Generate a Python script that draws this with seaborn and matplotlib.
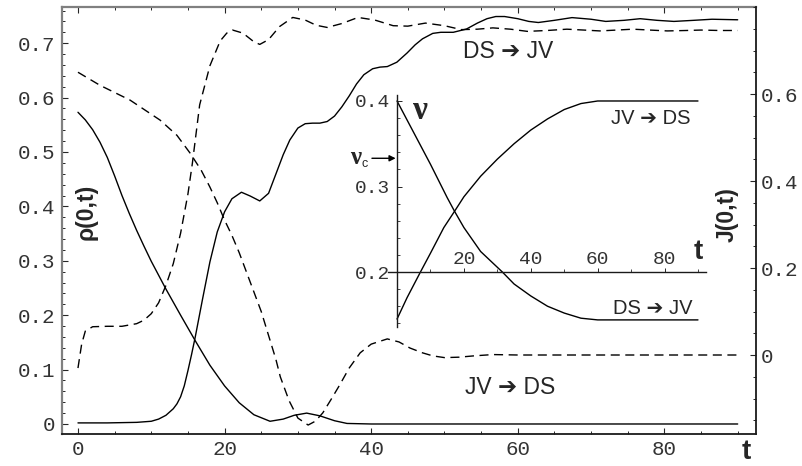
import matplotlib
matplotlib.use("Agg")
import matplotlib.pyplot as plt
import numpy as np
import pandas as pd
import seaborn as sns
from matplotlib.ticker import MultipleLocator, FixedLocator

sns.set_style("ticks")
plt.rcParams["font.family"] = ["Liberation Sans", "DejaVu Sans"]

# ---------------- main panel: density rho(0,t) (solid, left axis) ----------------
t_rho_up = [0, 4, 8, 10, 11, 12, 13, 13.5, 14, 14.5, 15, 15.5, 16, 17, 18, 19, 20, 21, 22.3,
            23.5, 24.8, 26, 27.1, 28, 28.9, 30, 31, 32, 33, 34, 35, 36, 37, 38, 39, 40.2,
            41.2, 42.2, 43.5, 44.9, 46, 47, 48.4, 49.5, 51.2, 53, 54.5, 55.8, 57, 58.2, 60,
            61.5, 62.8, 65, 67.4, 70, 72, 74.5, 76.7, 79, 81.3, 84, 86.5, 90]
rho_ds_jv = [0.002, 0.002, 0.003, 0.005, 0.009, 0.016, 0.028, 0.037, 0.05, 0.07, 0.098,
             0.128, 0.16, 0.23, 0.298, 0.353, 0.39, 0.414, 0.426, 0.419, 0.41, 0.424, 0.463,
             0.495, 0.522, 0.544, 0.552, 0.553, 0.553, 0.556, 0.566, 0.583, 0.603, 0.625,
             0.642, 0.653, 0.656, 0.657, 0.665, 0.682, 0.697, 0.708, 0.718, 0.72, 0.72,
             0.726, 0.737, 0.745, 0.749, 0.749, 0.745, 0.74, 0.738, 0.742, 0.747, 0.744,
             0.74, 0.742, 0.745, 0.742, 0.74, 0.742, 0.744, 0.743]

t_rho_down = [0, 1, 2, 3, 4, 5, 6, 7, 8, 9, 10, 12, 14, 16, 18, 20, 22, 24, 26.2, 28,
              29.5, 31.2, 33, 35, 36.7, 40, 50, 60, 70, 80, 90]
rho_jv_ds = [0.573, 0.559, 0.541, 0.518, 0.49, 0.456, 0.42, 0.387, 0.356, 0.327, 0.299,
             0.248, 0.2, 0.153, 0.108, 0.07, 0.039, 0.017, 0.005, 0.009, 0.016, 0.02, 0.015,
             0.006, 0.001, 0.0, 0.0, 0.0, 0.0, 0.0, 0.0]

# ---------------- main panel: current J(0,t) (dashed, right axis) ----------------
t_j_up = [0, 0.5, 1, 2, 4, 6, 8, 9, 10, 11, 12, 13, 14, 15, 15.6, 16.6, 18, 19.4, 20.3,
          21.1, 22.5, 24, 24.8, 26, 27.5, 29.3, 31, 32.5, 34, 36, 38.2, 40.5, 43, 45, 47.4,
          50, 52.3, 54.5, 56.6, 59, 61.3, 64, 66.7, 69, 71.2, 73.5, 75.7, 78, 80.4, 83, 85,
          87.5, 90]
j_ds_jv = [-0.03, 0.025, 0.055, 0.065, 0.066, 0.066, 0.072, 0.08, 0.095, 0.12, 0.16, 0.21,
           0.28, 0.37, 0.44, 0.575, 0.665, 0.722, 0.74, 0.747, 0.74, 0.72, 0.714, 0.725,
           0.755, 0.776, 0.77, 0.758, 0.753, 0.762, 0.776, 0.77, 0.757, 0.756, 0.763, 0.757,
           0.748, 0.749, 0.752, 0.749, 0.744, 0.746, 0.749, 0.747, 0.745, 0.747, 0.749,
           0.747, 0.745, 0.746, 0.747, 0.746, 0.746]

t_j_down = [0, 3, 7.1, 11.2, 13.5, 15.3, 16.8, 18, 19, 20, 21, 22, 23, 24, 25, 26, 27, 27.6,
            28.8, 30, 31.4, 32.4, 33.4, 34.5, 35.7, 37, 38.5, 40, 42.2, 43.8, 45.3, 47, 48.4,
            50, 52, 54, 56.6, 60, 70, 80, 90]
j_jv_ds = [0.65, 0.62, 0.586, 0.54, 0.505, 0.464, 0.425, 0.386, 0.35, 0.31, 0.275, 0.235,
           0.19, 0.145, 0.10, 0.045, -0.01, -0.05, -0.105, -0.145, -0.161, -0.152, -0.133,
           -0.103, -0.069, -0.03, 0.005, 0.025, 0.037, 0.03, 0.016, 0.005, -0.002, -0.006,
           -0.005, -0.002, 0.001, 0.0, 0.0, 0.0, 0.0]

# ---------------- inset: drive parameter nu(t) ----------------
t_nu_up = [0, 3, 7, 10, 14, 17.2, 20, 25, 30, 35, 40, 45, 50, 55, 60, 65, 70, 80, 90]
nu_jv_ds = [0.145, 0.17, 0.2, 0.222, 0.252, 0.271, 0.288, 0.312, 0.332, 0.35, 0.366, 0.379,
            0.39, 0.397, 0.4, 0.4, 0.4, 0.4, 0.4]
t_nu_down = [0, 5, 10, 15, 17.2, 20, 25, 31.5, 35, 40, 45, 50, 55, 60, 70, 80, 90]
nu_ds_jv = [0.4, 0.363, 0.326, 0.287, 0.271, 0.252, 0.224, 0.2, 0.186, 0.172, 0.16, 0.152,
            0.146, 0.144, 0.144, 0.144, 0.144]
nu_c = 0.333

x_ticks = [0, 20, 40, 60, 80]
rho_ticks = [0, 0.1, 0.2, 0.3, 0.4, 0.5, 0.6, 0.7]
rho_labels = ["0", "0.1", "0.2", "0.3", "0.4", "0.5", "0.6", "0.7"]
j_ticks = [0, 0.2, 0.4, 0.6]
j_labels = ["0", "0.2", "0.4", "0.6"]
nu_ticks = [0.2, 0.3, 0.4]
nu_labels = ["0.2", "0.3", "0.4"]
inset_x_ticks = [20, 40, 60, 80]

W, H = 802, 466
MONO = "Liberation Mono"
ARROW = "\u2794"   # heavy arrow, taken from DejaVu Sans


def fxy(px, py):
    """pixel position on the canvas -> figure fraction"""
    return px / W, 1 - py / H


fig = plt.figure(figsize=(W / 100, H / 100), dpi=100)
fig.patch.set_facecolor("white")

ax = fig.add_axes([62 / W, 1 - 434 / H, (756 - 62) / W, (434 - 7) / H])
axr = ax.twinx()
axr.set_position(ax.get_position())

lw = 1.0
sns.lineplot(x=t_rho_up, y=rho_ds_jv, ax=ax, color="black", lw=lw, sort=False)
sns.lineplot(x=t_rho_down, y=rho_jv_ds, ax=ax, color="black", lw=lw, sort=False)
sns.lineplot(x=t_j_up, y=j_ds_jv, ax=axr, color="black", lw=lw, sort=False)
sns.lineplot(x=t_j_down, y=j_jv_ds, ax=axr, color="black", lw=lw, sort=False)
for ln in axr.lines:
    ln.set_dashes([6.5, 4])

ax.set_xlim(-2.18, 92.5)
ax.set_ylim(-0.0184, 0.7665)
axr.set_ylim(-0.1816, 0.80)

ax.set_xlabel("")
ax.set_ylabel("")
axr.set_ylabel("")

ax.xaxis.set_major_locator(FixedLocator(x_ticks))
ax.set_xticklabels([str(v) for v in x_ticks])
ax.xaxis.set_minor_locator(MultipleLocator(5))
ax.set_yticks(rho_ticks, labels=rho_labels)
ax.yaxis.set_minor_locator(MultipleLocator(0.02))
axr.set_yticks(j_ticks, labels=j_labels)
axr.yaxis.set_minor_locator(MultipleLocator(0.05))

ax.tick_params(axis="x", which="major", direction="in", length=4, width=0.8,
               top=True, bottom=True, pad=4.5, labelsize=15, labelcolor="#333333")
ax.tick_params(axis="x", which="minor", direction="in", length=2.5, width=0.7,
               top=True, bottom=True)
ax.tick_params(axis="y", which="major", direction="in", length=4, width=0.8,
               left=True, right=False, pad=5, labelsize=15, labelcolor="#333333")
ax.tick_params(axis="y", which="minor", direction="in", length=2.5, width=0.7,
               left=True, right=False)
axr.tick_params(axis="y", which="major", direction="in", length=4, width=0.8,
                right=True, left=False, pad=3.5, labelsize=15, labelcolor="#333333")
axr.tick_params(axis="y", which="minor", direction="in", length=2.5, width=0.7,
                right=True, left=False)
for lab in ax.get_xticklabels() + ax.get_yticklabels() + axr.get_yticklabels():
    lab.set_fontfamily(MONO)

for side in ("top", "left"):
    ax.spines[side].set_color("#808080")
    ax.spines[side].set_linewidth(1.6)
ax.spines["bottom"].set_color("#1a1a1a")
ax.spines["bottom"].set_linewidth(1.3)
ax.spines["right"].set_visible(False)
for side in ("top", "left", "bottom"):
    axr.spines[side].set_visible(False)
axr.spines["right"].set_color("#1a1a1a")
axr.spines["right"].set_linewidth(1.3)

# axis titles and curve annotations
fig.text(*fxy(86, 212), "ρ(0,t)", rotation=90, ha="center", va="center",
         fontsize=16.5, fontweight="bold")
fig.text(*fxy(727, 215), "J(0,t)", rotation=90, ha="center", va="center",
         fontsize=16.5, fontweight="bold")
fig.text(*fxy(746, 452), "t", ha="center", va="center", fontsize=20, fontweight="bold")
fig.text(*fxy(508, 52), f"DS {ARROW} JV", ha="center", va="center", fontsize=16.5)
fig.text(*fxy(510, 388), f"JV {ARROW} DS", ha="center", va="center", fontsize=16.5)

# ---------------- inset ----------------
ins = fig.add_axes([388 / W, 1 - 327 / H, (706 - 388) / W, (327 - 95) / H])
ins.patch.set_alpha(0)
sns.lineplot(x=t_nu_up, y=nu_jv_ds, ax=ins, color="black", lw=lw, sort=False)
sns.lineplot(x=t_nu_down, y=nu_ds_jv, ax=ins, color="black", lw=lw, sort=False)
ins.set_xlim(-2.7, 92.4)
ins.set_ylim(0.1357, 0.407)
ins.set_xlabel("")
ins.set_ylabel("")
ins.spines["left"].set_position(("data", 0))
ins.spines["bottom"].set_position(("data", 0.2))
ins.spines["top"].set_visible(False)
ins.spines["right"].set_visible(False)
for side in ("left", "bottom"):
    ins.spines[side].set_color("#1a1a1a")
    ins.spines[side].set_linewidth(1.0)
ins.set_yticks(nu_ticks, labels=nu_labels)
ins.yaxis.set_minor_locator(MultipleLocator(0.02))
ins.set_xticks(inset_x_ticks, labels=[str(v) for v in inset_x_ticks])
ins.xaxis.set_minor_locator(MultipleLocator(10))
ins.tick_params(axis="y", which="major", direction="in", length=3.5, width=0.7,
                pad=5, labelsize=14, labelcolor="#333333")
ins.tick_params(axis="y", which="minor", direction="in", length=2, width=0.6)
ins.tick_params(axis="x", which="major", direction="in", length=3, width=0.7,
                pad=-15, labelsize=14, labelcolor="#333333")
ins.tick_params(axis="x", which="minor", direction="in", length=2, width=0.6)
for lab in ins.get_xticklabels() + ins.get_yticklabels():
    lab.set_fontfamily(MONO)

ins.text(6.9, 0.389, "ν", ha="center", va="center", fontsize=24, fontweight="bold",
         family=["Liberation Serif", "DejaVu Serif"])
fig.text(*fxy(698, 252), "t", ha="center", va="center", fontsize=20, fontweight="bold")
fig.text(*fxy(651, 118), f"JV {ARROW} DS", ha="center", va="center", fontsize=14.5)
fig.text(*fxy(653, 309), f"DS {ARROW} JV", ha="center", va="center", fontsize=14.5)

# critical value marker on the nu axis
fig.text(*fxy(356, 158), "ν", ha="center", va="center", fontsize=18, fontweight="bold",
         family=["Liberation Serif", "DejaVu Serif"])
fig.text(*fxy(365, 164), "c", ha="center", va="center", fontsize=9)
ins.annotate("", xy=(0, nu_c), xytext=(-7.5, nu_c), annotation_clip=False,
             arrowprops=dict(arrowstyle="-|>", lw=1.0, color="black", mutation_scale=9,
                             shrinkA=0, shrinkB=1))

fig.savefig("out.png", dpi=100, facecolor="white")
